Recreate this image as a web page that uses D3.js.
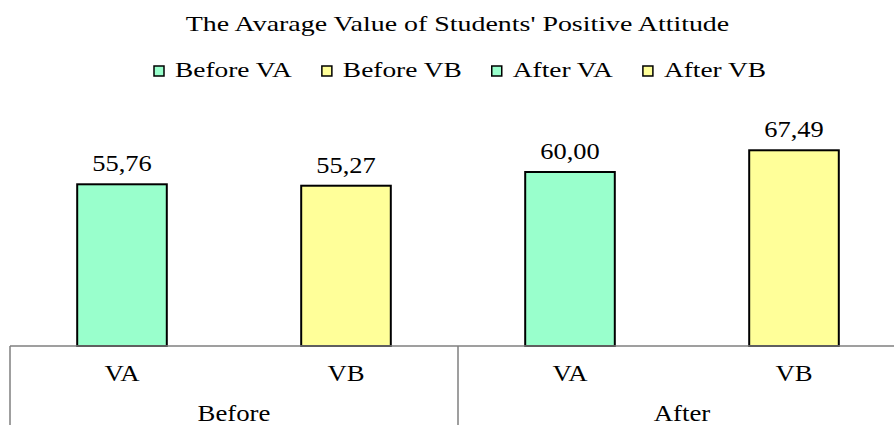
<!DOCTYPE html>
<html>
<head>
<meta charset="utf-8">
<script src="https://cdn.jsdelivr.net/npm/d3@7"></script>
<style>
  html, body { margin: 0; padding: 0; background: #fff; }
  svg { display: block; }
</style>
</head>
<body>
<div id="chart"></div>
<script>

// data
var groups = ['Before', 'After']
var subgroups = ['VA', 'VB']
var before_values = [55.76, 55.27]
var after_values = [60.00, 67.49]
var legend_labels = ['Before VA', 'Before VB', 'After VA', 'After VB']
var subgroup_colors = ['#99FFCC', '#FFFF99']

var width = 894
var height = 425
var font = "'Liberation Serif'"

var svg = d3.select('#chart').append('svg')
  .attr('width', width)
  .attr('height', height)

// the original picture is stretched sideways, so text gets a scaleX
function stretched_text(x, y, str, size, sx, anchor) {
  var t = svg.append('text')
    .attr('transform', 'translate(' + x + ',' + y + ') scale(' + sx + ',1)')
    .attr('text-anchor', anchor || 'middle')
    .style('font-family', font)
    .style('font-size', size + 'px')
    .style('fill', '#000')
    .text(str)
  t.scaled_width = t.node().getComputedTextLength() * sx
  return t
}

// title
stretched_text(457.5, 30.5, "The Avarage Value of Students' Positive Attitude", 21, 1.33)

// legend
var legend_x = 154
legend_labels.forEach(function(label, i) {
  svg.append('rect')
    .attr('x', legend_x)
    .attr('y', 66)
    .attr('width', 10)
    .attr('height', 10)
    .attr('fill', subgroup_colors[i % 2])
    .attr('stroke', '#000')
    .attr('stroke-width', 1.5)
  var t = stretched_text(legend_x + 21, 77, label, 20, 1.37, 'start')
  legend_x += 21 + t.scaled_width + 30
})

// scales
var baseline = 346
var x_group = d3.scaleBand()
  .domain(groups)
  .range([10, 906])

var x_sub = d3.scaleBand()
  .domain(subgroups)
  .range([0, x_group.bandwidth()])
  .paddingInner(0.6)
  .paddingOuter(0.3)

var y = d3.scaleLinear()
  .domain([0, 80])
  .range([baseline, baseline - 80 * 2.9])

var rows = []
groups.forEach(function(g, gi) {
  var vals = gi === 0 ? before_values : after_values
  subgroups.forEach(function(s, si) {
    rows.push({ group: g, sub: s, value: vals[si], color: subgroup_colors[si] })
  })
})

// bars
svg.selectAll('rect.bar')
  .data(rows)
  .enter().append('rect')
  .attr('class', 'bar')
  .attr('x', function(d) { return x_group(d.group) + x_sub(d.sub) })
  .attr('y', function(d) { return y(d.value) })
  .attr('width', x_sub.bandwidth())
  .attr('height', function(d) { return baseline - y(d.value) })
  .attr('fill', function(d) { return d.color })
  .attr('stroke', '#000')
  .attr('stroke-width', 2)

// value labels, comma decimals
rows.forEach(function(d) {
  var cx = x_group(d.group) + x_sub(d.sub) + x_sub.bandwidth() / 2
  stretched_text(cx, y(d.value) - 13, d.value.toFixed(2).replace('.', ','), 23, 1.15)
})

// axis lines
var axis_color = '#7f7f7f'
svg.append('line')
  .attr('x1', 10).attr('x2', width)
  .attr('y1', baseline).attr('y2', baseline)
  .attr('stroke', axis_color).attr('stroke-width', 1.5)

groups.forEach(function(g) {
  svg.append('line')
    .attr('x1', x_group(g)).attr('x2', x_group(g))
    .attr('y1', baseline).attr('y2', height)
    .attr('stroke', axis_color).attr('stroke-width', 1.5)
})

// category labels
groups.forEach(function(g) {
  subgroups.forEach(function(s) {
    var cx = x_group(g) + x_sub(s) + x_sub.bandwidth() / 2
    stretched_text(cx, 381, s, 22.5, 1.19)
  })
  stretched_text(x_group(g) + x_group.bandwidth() / 2, 421, g, 22.5, 1.19)
})

</script>
</body>
</html>
